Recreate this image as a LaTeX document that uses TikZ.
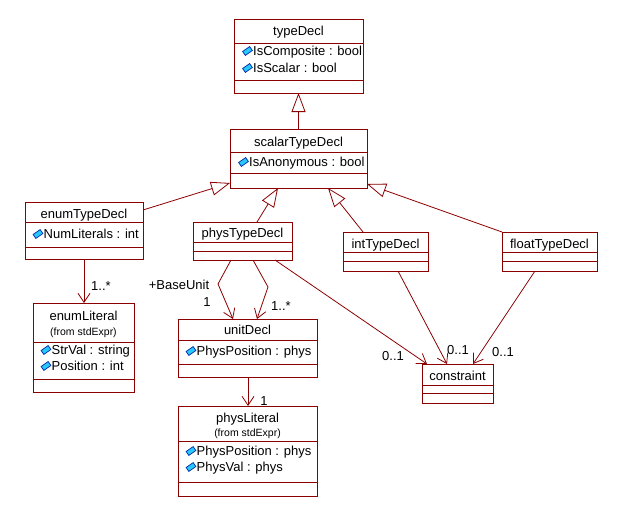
\documentclass[tikz,border=0pt]{standalone}
\usepackage{fontspec}
\setmainfont{Liberation Sans}
\usetikzlibrary{arrows.meta,calc}
\definecolor{umlred}{RGB}{140,0,0}
\definecolor{iconfill}{RGB}{40,200,250}
\definecolor{iconline}{RGB}{0,40,170}
\tikzset{
 classbox/.style={draw=umlred, line width=0.8pt, fill=white, rectangle, inner sep=0pt, outer sep=0pt},
 sepline/.style={draw=umlred, line width=0.8pt},
 cname/.style={font=\fontsize{13}{15}\selectfont, inner sep=0pt, text height=9.3pt, text depth=0pt},
 attr/.style={cname, anchor=west},
 fromtxt/.style={font=\fontsize{10.5}{12}\selectfont, inner sep=0pt, text height=7.5pt, text depth=0pt},
 mult/.style={cname},
 inh/.style={draw=umlred, line width=0.8pt, -{Triangle[open,length=19pt,width=14pt,fill=white]}},
 assoc/.style={draw=umlred, line width=0.8pt, -{Straight Barb[length=9pt,width=12pt]}},
 attricon/.pic={\filldraw[fill=iconfill,draw=iconline,line width=0.7pt,rotate=35] (-4.3,-2.4) rectangle (4.3,2.4);}
}
\newcommand{\umlclass}[7]{%
 \node[classbox, minimum width={(#4-#2)*1pt}, minimum height={(#5-#3)*1pt}] (#1) at ({(#2+#4)/2},{(#3+#5)/2}) {};
 \draw[sepline] ($(#1.north west)+(0,#6-#3)$) -- ($(#1.north east)+(0,#6-#3)$);
 \draw[sepline] ($(#1.north west)+(0,#7-#3)$) -- ($(#1.north east)+(0,#7-#3)$);
}
\begin{document}
\begin{tikzpicture}[x=1pt,y=-1pt]
\fill[white] (0,0) rectangle (623,527);
\useasboundingbox (0,0) rectangle (623,527);

% classes
\umlclass{typeDecl}{234}{19}{363}{93}{43}{80}
\umlclass{scalar}{230}{129}{367}{188}{152}{173}
\umlclass{enumT}{25}{202}{143}{259}{222}{247}
\umlclass{physT}{193}{222}{292}{260}{242}{251}
\umlclass{intT}{343}{232}{428}{271}{252}{261}
\umlclass{floatT}{502}{232}{597}{271}{252}{261}
\umlclass{enumL}{33}{303}{134}{392}{342}{379}
\umlclass{unitD}{178}{319}{317}{377}{340}{364}
\umlclass{physL}{178}{406}{317}{496}{441}{482}
\umlclass{constr}{422}{364}{493}{403}{385}{393}

% class texts
\node[cname] (n-typeDecl) at (298.5,31) {typeDecl};
\pic at (247.5,51) {attricon};
\node[attr] (a-comp) at (253,51) {IsComposite : bool};
\pic at (247.5,68) {attricon};
\node[attr] (a-scal) at (253,68) {IsScalar : bool};

\node[cname] (n-scalar) at (298.5,142) {scalarTypeDecl};
\pic at (243.5,162) {attricon};
\node[attr] (a-anon) at (249,162) {IsAnonymous : bool};

\node[cname] (n-enumT) at (84,214) {enumTypeDecl};
\pic at (38,234) {attricon};
\node[attr] (a-numlit) at (43.5,234) {NumLiterals : int};

\node[cname] (n-physT) at (242.5,233) {physTypeDecl};
\node[cname] (n-intT) at (385.5,244) {intTypeDecl};
\node[cname] (n-floatT) at (549.5,244) {floatTypeDecl};

\node[cname] (n-enumL) at (83.5,316) {enumLiteral};
\node[fromtxt] (f-enumL) at (83.5,332) {(from stdExpr)};
\pic at (46,350) {attricon};
\node[attr] (a-strval) at (51.5,350) {StrVal : string};
\pic at (46,366) {attricon};
\node[attr] (a-pos) at (51.5,366) {Position : int};

\node[cname] (n-unitD) at (247.5,330) {unitDecl};
\pic at (191,351) {attricon};
\node[attr] (a-upos) at (196.5,351) {PhysPosition : phys};

\node[cname] (n-physL) at (247.5,418) {physLiteral};
\node[fromtxt] (f-physL) at (247.5,433) {(from stdExpr)};
\pic at (191,451) {attricon};
\node[attr] (a-ppos) at (196.5,451) {PhysPosition : phys};
\pic at (191,467) {attricon};
\node[attr] (a-pval) at (196.5,467) {PhysVal : phys};

\node[cname] (n-constr) at (457.5,376) {constraint};

% generalizations
\draw[inh] (scalar.north) -- (typeDecl.south);
\draw[inh] ($(enumT.north east)+(0,8)$) -- ($(scalar.north west)+(0,54)$);
\draw[inh] ($(physT.north west)+(64,0)$) -- ($(scalar.south west)+(48,0)$);
\draw[inh] ($(intT.north west)+(20,0)$) -- ($(scalar.south west)+(98,0)$);
\draw[inh] (floatT.north west) -- ($(scalar.north east)+(0,55)$);

% associations
\coordinate (bend1) at (218,284);
\coordinate (bend2) at (268,287);
\draw[assoc] ($(enumT.south west)+(59,0)$) -- ($(enumL.north west)+(51,0)$);
\draw[assoc] ($(physT.south west)+(38,0)$) -- (bend1) -- ($(unitD.north west)+(55,0)$);
\draw[assoc] ($(physT.south west)+(60,0)$) -- (bend2) -- ($(unitD.north west)+(79,0)$);
\draw[assoc] ($(unitD.south west)+(70,0)$) -- ($(physL.north west)+(70,0)$);
\draw[assoc] ($(physT.south west)+(82,0)$) -- ($(constr.north west)+(5,0)$);
\draw[assoc] ($(intT.south west)+(55,0)$) -- ($(constr.north west)+(25,0)$);
\draw[assoc] ($(floatT.south west)+(33,0)$) -- ($(constr.north west)+(51,0)$);

% multiplicities / roles
\node[mult] (m-base) at (179,285) {+BaseUnit};
\node[mult] (m-one1) at (207,302) {1};
\node[mult] (m-many1) at (281,306) {1..*};
\node[mult] (m-many2) at (101,286) {1..*};
\node[mult] (m-one2) at (264,401) {1};
\node[mult] (m-c1) at (393,356) {0..1};
\node[mult] (m-c2) at (458,350) {0..1};
\node[mult] (m-c3) at (503,352) {0..1};
\end{tikzpicture}
\end{document}
